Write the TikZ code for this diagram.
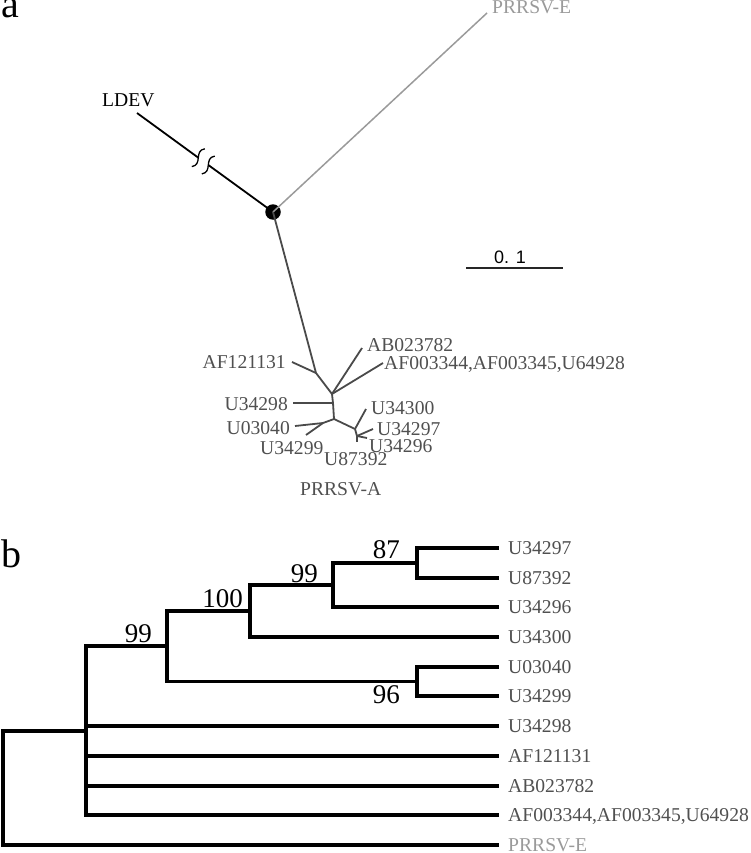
\documentclass[tikz,border=0pt]{standalone}
\usepackage{fontspec}
\setmainfont{Liberation Serif}
\newfontfamily\barfont{Liberation Sans}
\definecolor{labgray}{HTML}{505050}
\definecolor{brgray}{HTML}{4A4A4A}
\definecolor{egray}{HTML}{9A9A9A}
\begin{document}
\begin{tikzpicture}[x=1pt,y=-1pt,
  lbl/.style={font=\fontsize{19.6}{22}\selectfont, text=labgray, inner sep=0pt},
  panel/.style={font=\fontsize{40}{44}\selectfont, inner sep=0pt, anchor=base west},
  br/.style={draw=brgray, line width=1.8pt},
  tb/.style={draw=black, line width=3.3pt, line join=miter},
  bs/.style={font=\fontsize{27}{30}\selectfont, inner sep=0pt, anchor=base east}]
\useasboundingbox (0,0) rectangle (750,853);

% ---------------- panel a ----------------
\node[panel] (pa) at (1,18) {a};

\coordinate (ldevtip) at (137,113);
\coordinate (brk1) at (198.3,157.7);
\coordinate (brk2) at (208.3,165);
\coordinate (etip) at (487,13);
\coordinate (j1) at (316,373);
\coordinate (j2) at (332,394);
\coordinate (j2b) at (333,403);
\coordinate (j3) at (334,419);
\coordinate (j4) at (323,423);
\coordinate (j5) at (355,429);
\coordinate (j6) at (357,436);
\coordinate (tAF121) at (292,362);
\coordinate (tAB) at (362,348);
\coordinate (tAF003) at (383,363);
\coordinate (tU34298) at (293,403);
\coordinate (tU03040) at (295,426);
\coordinate (tU34299) at (306,435);
\coordinate (tU34300) at (366,409);
\coordinate (tU34297) at (373,429);
\coordinate (tU34296) at (367,438);
\coordinate (tU87392) at (357,442);

\node[circle, fill=black, minimum size=15.5pt, inner sep=0pt] (dot) at (273,212) {};

\draw[black, line width=1.8pt] (ldevtip) -- (brk1);
\draw[black, line width=1.8pt] (brk2) -- (dot.center);
\foreach \c in {brk1,brk2}{
  \begin{scope}[shift={(\c)}]
    \draw[black, line width=1.3pt] (6.48,-8.9) .. controls (-4.7,-7.14) and (4.7,7.14) .. (-6.48,8.9);
  \end{scope}
}
\draw[egray, line width=1.5pt] (dot.center) -- (etip);

\draw[br] (dot.center) -- (j1) -- (j2) -- (j2b) -- (j3) -- (j5) -- (j6);
\draw[br] (j1) -- (tAF121);
\draw[br] (j2) -- (tAB);
\draw[br] (j2) -- (tAF003);
\draw[br] (j2b) -- (tU34298);
\draw[br] (j3) -- (j4);
\draw[br] (j4) -- (tU03040);
\draw[br] (j4) -- (tU34299);
\draw[br] (j5) -- (tU34300);
\draw[br] (j6) -- (tU34297);
\draw[br] (j6) -- (tU34296);
\draw[br] (j6) -- (tU87392);

\node[lbl, text=black, anchor=base west] (lLDEV) at (102,107) {LDEV};
\node[lbl, text=egray, anchor=base west] (lEtop) at (492,14) {PRRSV-E};
\node[lbl, anchor=base east] (aAF121) at (286,368) {AF121131};
\node[lbl, anchor=base west] (aAB) at (367,351) {AB023782};
\node[lbl, anchor=base west] (aAF003) at (384,369) {AF003344,AF003345,U64928};
\node[lbl, anchor=base east] (aU34298) at (288,410) {U34298};
\node[lbl, anchor=base east] (aU03040) at (290,434) {U03040};
\node[lbl, anchor=base west] (aU34299) at (260,454) {U34299};
\node[lbl, anchor=base west] (aU34300) at (371,414) {U34300};
\node[lbl, anchor=base west] (aU34297) at (377,435) {U34297};
\node[lbl, anchor=base west] (aU34296) at (369,452) {U34296};
\node[lbl, anchor=base west] (aU87392) at (324,465) {U87392};
\node[lbl, anchor=base west] (aPA) at (300,495) {PRRSV-A};

% scale bar
\coordinate (sb1) at (466,268);
\coordinate (sb2) at (563,268);
\draw[black!85, line width=1.8pt] (sb1) -- (sb2);
\node[font=\barfont\fontsize{18}{20}\selectfont, inner sep=0pt, anchor=base] (sbl) at (510,263) {0. 1};

% ---------------- panel b ----------------
\node[panel] (pb) at (1,567) {b};

\coordinate (L1) at (499,548);
\coordinate (L2) at (499,578);
\coordinate (L3) at (499,607);
\coordinate (L4) at (499,637);
\coordinate (L5) at (499,667);
\coordinate (L6) at (499,696);
\coordinate (L7) at (499,726);
\coordinate (L8) at (499,756);
\coordinate (L9) at (499,786);
\coordinate (L10) at (499,815);
\coordinate (L11) at (499,845);

\coordinate (n87) at (417,563);
\coordinate (n99i) at (333,585);
\coordinate (n100) at (250,611);
\coordinate (n96) at (417,681.5);
\coordinate (n99o) at (167,646);
\coordinate (nbig) at (86,731);
\coordinate (root) at (3,788);

\draw[tb] (n87) |- (L1);
\draw[tb] (n87) |- (L2);
\draw[tb] (n99i) |- (n87);
\draw[tb] (n99i) |- (L3);
\draw[tb] (n100) |- (n99i);
\draw[tb] (n100) |- (L4);
\draw[tb] (n96) |- (L5);
\draw[tb] (n96) |- (L6);
\draw[tb] (n99o) |- (n100);
\draw[tb] (n99o) |- (n96);
\draw[tb] (nbig) |- (n99o);
\draw[tb] (nbig) |- (L7);
\draw[tb] (nbig) |- (L8);
\draw[tb] (nbig) |- (L9);
\draw[tb] (nbig) |- (L10);
\draw[tb] (root) |- (nbig);
\draw[tb] (root) |- (L11);

\node[lbl, anchor=base west] (bU34297) at (508,554.3) {U34297};
\node[lbl, anchor=base west] (bU87392) at (508,584.3) {U87392};
\node[lbl, anchor=base west] (bU34296) at (508,613.3) {U34296};
\node[lbl, anchor=base west] (bU34300) at (508,643.3) {U34300};
\node[lbl, anchor=base west] (bU03040) at (508,673.3) {U03040};
\node[lbl, anchor=base west] (bU34299) at (508,702.3) {U34299};
\node[lbl, anchor=base west] (bU34298) at (508,732.3) {U34298};
\node[lbl, anchor=base west] (bAF121) at (508,762.3) {AF121131};
\node[lbl, anchor=base west] (bAB) at (508,792.3) {AB023782};
\node[lbl, anchor=base west] (bAF003) at (508,821.3) {AF003344,AF003345,U64928};
\node[lbl, text=egray, anchor=base west] (bE) at (508,851.3) {PRRSV-E};

\node[bs] (s87) at (400,558) {87};
\node[bs] (s99i) at (318,582) {99};
\node[bs] (s100) at (243,607) {100};
\node[bs] (s99o) at (152,642) {99};
\node[bs] (s96) at (400,703) {96};
\end{tikzpicture}
\end{document}
